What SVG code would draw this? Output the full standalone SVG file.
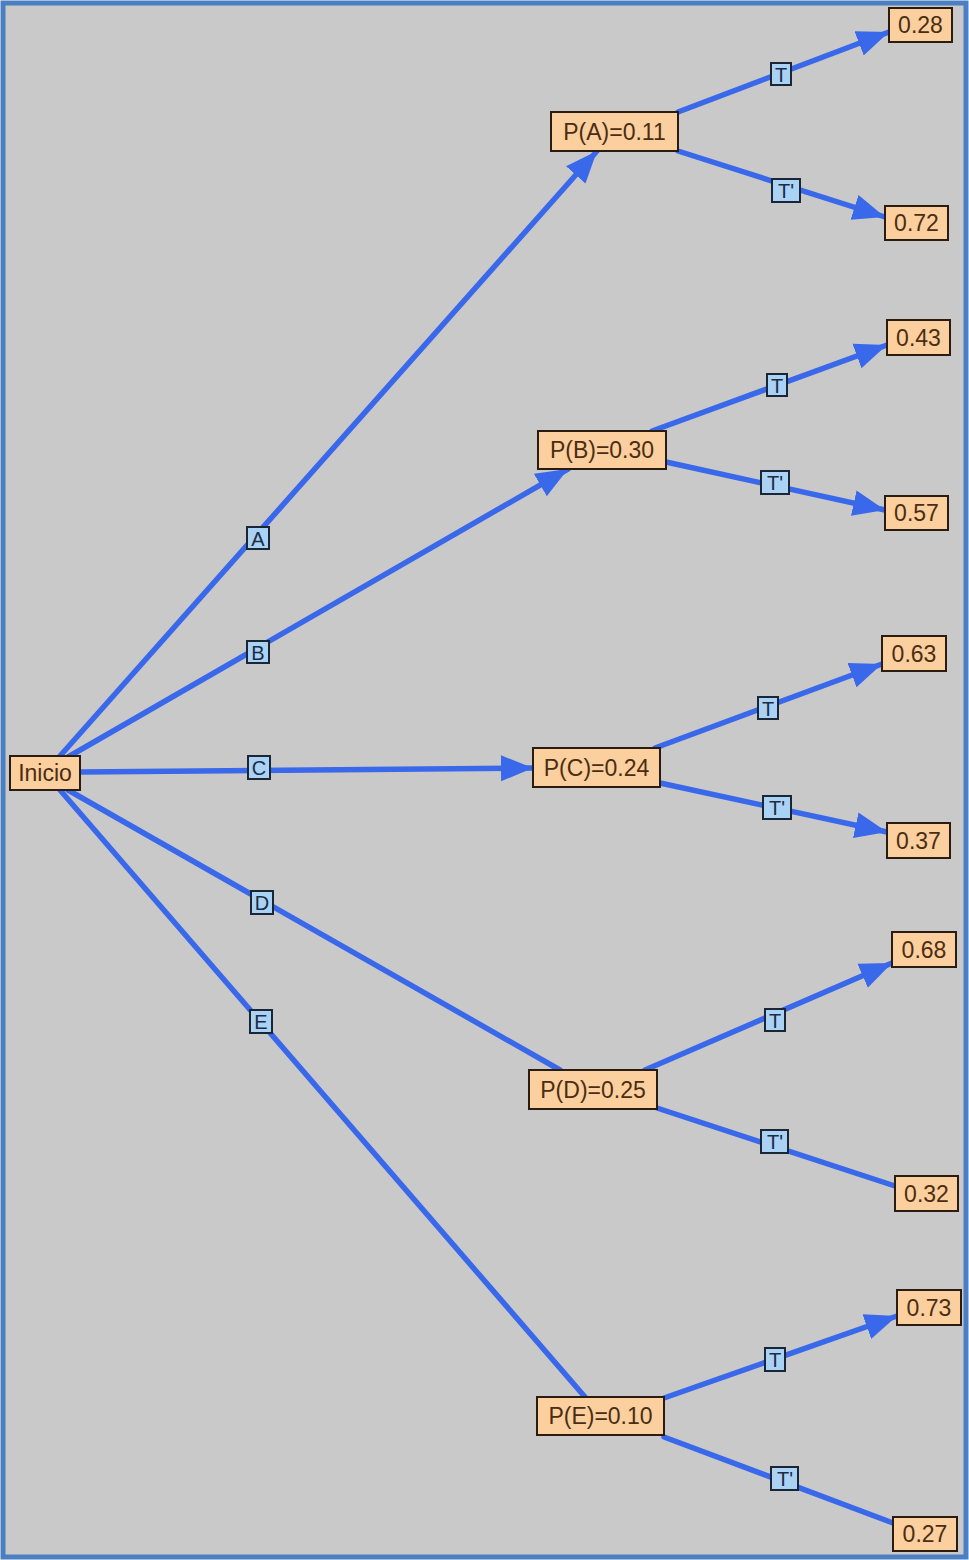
<svg xmlns="http://www.w3.org/2000/svg" width="969" height="1560" viewBox="0 0 969 1560">
<style>
.edge{stroke:#3a68ea;stroke-width:5.5;fill:none;stroke-linecap:round}
.arr{marker-end:url(#ah)}
.node rect{fill:#fccf9e;stroke:#2a1c10;stroke-width:2}
.node text{font-family:"Liberation Sans",Arial,sans-serif;font-size:23px;fill:#4a2d12;text-anchor:middle;dominant-baseline:central}
.lbl rect{fill:#a9d2f4;stroke:#1a2636;stroke-width:2}
.lbl text{font-family:"Liberation Sans",Arial,sans-serif;font-size:20px;fill:#1d2b44;text-anchor:middle;dominant-baseline:central}
</style>
<defs>
<marker id="ah" markerUnits="userSpaceOnUse" markerWidth="34" markerHeight="28" refX="32" refY="14" orient="auto">
<path d="M0,1 L32,14 L0,27 Z" fill="#3a68ea"/>
</marker>
</defs>
<rect x="3" y="3" width="963" height="1554" fill="#c9c9c9" stroke="#4b7fc2" stroke-width="5"/>
<g id="connectors">
<line class="edge arr" x1="60" y1="756" x2="597" y2="151"/>
<line class="edge arr" x1="68" y1="757" x2="568" y2="469"/>
<line class="edge arr" x1="80" y1="772" x2="533" y2="768"/>
<line class="edge" x1="68" y1="790" x2="560" y2="1070"/>
<line class="edge" x1="60" y1="790" x2="585" y2="1397"/>
<line class="edge arr" x1="678" y1="112" x2="889" y2="32"/>
<line class="edge arr" x1="678" y1="151" x2="885" y2="217"/>
<line class="edge arr" x1="652" y1="431" x2="887" y2="345"/>
<line class="edge arr" x1="666" y1="462" x2="885" y2="510"/>
<line class="edge arr" x1="655" y1="748" x2="882" y2="664"/>
<line class="edge arr" x1="660" y1="783" x2="887" y2="832"/>
<line class="edge arr" x1="645" y1="1070" x2="892" y2="963"/>
<line class="edge" x1="657" y1="1108" x2="895" y2="1186"/>
<line class="edge arr" x1="664" y1="1398" x2="897" y2="1316"/>
<line class="edge" x1="664" y1="1437" x2="893" y2="1523"/>
<g class="lbl"><rect x="247" y="527" width="22" height="22"/><text x="258" y="539">A</text></g>
<g class="lbl"><rect x="247" y="641" width="22" height="22"/><text x="258" y="653">B</text></g>
<g class="lbl"><rect x="248" y="756" width="22" height="23"/><text x="259" y="768">C</text></g>
<g class="lbl"><rect x="251" y="891" width="22" height="23"/><text x="262" y="903">D</text></g>
<g class="lbl"><rect x="250" y="1010" width="22" height="23"/><text x="261" y="1022">E</text></g>
<g class="lbl"><rect x="771" y="63" width="20" height="22"/><text x="781" y="75">T</text></g>
<g class="lbl"><rect x="772" y="179" width="28" height="23"/><text x="786" y="191">T'</text></g>
<g class="lbl"><rect x="767" y="374" width="20" height="22"/><text x="777" y="386">T</text></g>
<g class="lbl"><rect x="761" y="471" width="28" height="23"/><text x="775" y="483">T'</text></g>
<g class="lbl"><rect x="758" y="697" width="20" height="22"/><text x="768" y="709">T</text></g>
<g class="lbl"><rect x="763" y="796" width="28" height="23"/><text x="777" y="808">T'</text></g>
<g class="lbl"><rect x="765" y="1009" width="20" height="22"/><text x="775" y="1021">T</text></g>
<g class="lbl"><rect x="761" y="1130" width="27" height="23"/><text x="775" y="1142">T'</text></g>
<g class="lbl"><rect x="765" y="1348" width="20" height="23"/><text x="775" y="1360">T</text></g>
<g class="lbl"><rect x="771" y="1467" width="27" height="23"/><text x="785" y="1479">T'</text></g>
</g>
<g id="n-inicio" class="node"><rect x="10" y="756" width="70" height="34"/><text x="45" y="773">Inicio</text></g>
<g id="n-pa" class="node"><rect x="551" y="112" width="127" height="39"/><text x="614.5" y="131.5">P(A)=0.11</text></g>
<g id="n-pb" class="node"><rect x="538" y="431" width="128" height="38"/><text x="602" y="450">P(B)=0.30</text></g>
<g id="n-pc" class="node"><rect x="533" y="748" width="127" height="39"/><text x="596.5" y="767.5">P(C)=0.24</text></g>
<g id="n-pd" class="node"><rect x="529" y="1070" width="128" height="39"/><text x="593" y="1089.5">P(D)=0.25</text></g>
<g id="n-pe" class="node"><rect x="537" y="1397" width="127" height="38"/><text x="600.5" y="1416">P(E)=0.10</text></g>
<g id="n-028" class="node"><rect x="889" y="8" width="63" height="34"/><text x="920.5" y="25">0.28</text></g>
<g id="n-072" class="node"><rect x="885" y="206" width="63" height="34"/><text x="916.5" y="223">0.72</text></g>
<g id="n-043" class="node"><rect x="887" y="320" width="63" height="35"/><text x="918.5" y="337.5">0.43</text></g>
<g id="n-057" class="node"><rect x="885" y="496" width="63" height="34"/><text x="916.5" y="513">0.57</text></g>
<g id="n-063" class="node"><rect x="882" y="636" width="64" height="35"/><text x="914" y="653.5">0.63</text></g>
<g id="n-037" class="node"><rect x="887" y="823" width="63" height="35"/><text x="918.5" y="840.5">0.37</text></g>
<g id="n-068" class="node"><rect x="892" y="932" width="64" height="35"/><text x="924" y="949.5">0.68</text></g>
<g id="n-032" class="node"><rect x="895" y="1176" width="63" height="35"/><text x="926.5" y="1193.5">0.32</text></g>
<g id="n-073" class="node"><rect x="897" y="1290" width="64" height="35"/><text x="929" y="1307.5">0.73</text></g>
<g id="n-027" class="node"><rect x="893" y="1517" width="64" height="34"/><text x="925" y="1534">0.27</text></g>
</svg>
